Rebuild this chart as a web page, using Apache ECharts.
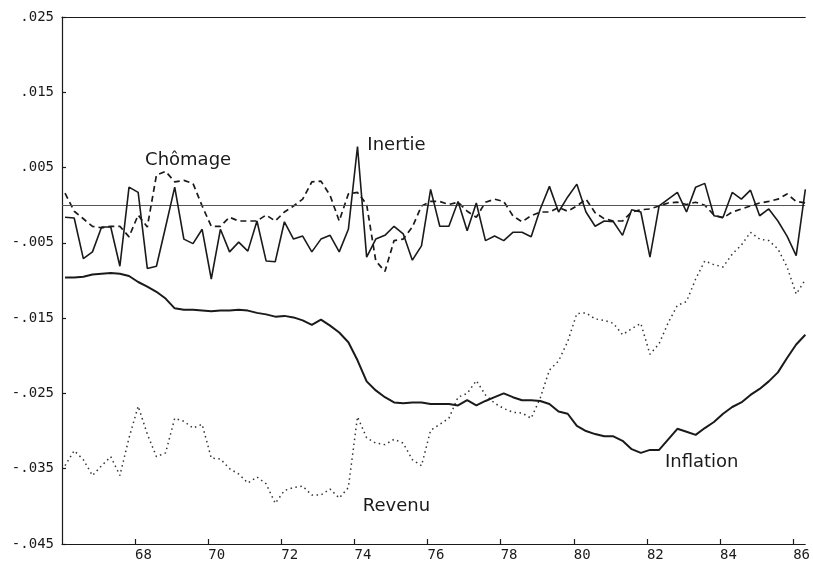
<!DOCTYPE html>
<html>
<head>
<meta charset="utf-8">
<script src="https://cdn.jsdelivr.net/npm/echarts@6/dist/echarts.min.js"></script>
<style>
html,body{margin:0;padding:0;background:#fff;overflow:hidden;}
#chart{width:813px;height:562px;}
</style>
</head>
<body>
<div id="chart"></div>
<script>
// Quarterly series, 1966Q1 .. 1986Q2
const startYear = 66;
const inertie = [-0.0016,-0.0017,-0.0071,-0.0062,-0.0029,-0.0029,-0.0081,0.0024,0.0017,-0.0084,-0.0081,-0.0029,0.0024,-0.0045,-0.0051,-0.0032,-0.0098,-0.0032,-0.0062,-0.0049,-0.0061,-0.0021,-0.0074,-0.0075,-0.0022,-0.0045,-0.0041,-0.0062,-0.0045,-0.0040,-0.0062,-0.0032,0.0078,-0.0069,-0.0045,-0.0040,-0.0028,-0.0038,-0.0073,-0.0054,0.0021,-0.0028,-0.0028,0.0005,-0.0034,0.0003,-0.0047,-0.0041,-0.0047,-0.0036,-0.0036,-0.0042,-0.0005,0.0025,-0.0009,0.0011,0.0028,-0.0009,-0.0028,-0.0021,-0.0022,-0.0040,-0.0006,-0.0009,-0.0069,-0.0001,0.0008,0.0017,-0.0009,0.0024,0.0029,-0.0014,-0.0016,0.0017,0.0008,0.0020,-0.0014,-0.0005,-0.0021,-0.0041,-0.0067,0.0021];
const chomage = [0.0016,-0.0008,-0.0018,-0.0028,-0.0030,-0.0028,-0.0028,-0.0042,-0.0013,-0.0029,0.0040,0.0045,0.0031,0.0033,0.0029,-0.0001,-0.0028,-0.0028,-0.0016,-0.0021,-0.0021,-0.0021,-0.0013,-0.0021,-0.0009,-0.0001,0.0008,0.0031,0.0032,0.0013,-0.0021,0.0015,0.0017,0.0001,-0.0074,-0.0088,-0.0047,-0.0045,-0.0029,-0.0001,0.0005,0.0005,0.0001,0.0004,-0.0008,-0.0016,0.0004,0.0008,0.0005,-0.0014,-0.0022,-0.0014,-0.0009,-0.0009,-0.0003,-0.0008,-0.0001,0.0008,-0.0010,-0.0018,-0.0021,-0.0021,-0.0009,-0.0006,-0.0005,-0.0001,0.0003,0.0004,0.0001,0.0004,0.0000,-0.0013,-0.0017,-0.0009,-0.0005,-0.0001,0.0003,0.0005,0.0008,0.0015,0.0005,0.0003];
const inflation = [-0.0096,-0.0096,-0.0095,-0.0092,-0.0091,-0.0090,-0.0091,-0.0094,-0.0102,-0.0108,-0.0115,-0.0124,-0.0137,-0.0139,-0.0139,-0.0140,-0.0141,-0.0140,-0.0140,-0.0139,-0.0140,-0.0143,-0.0145,-0.0148,-0.0147,-0.0149,-0.0153,-0.0159,-0.0152,-0.0160,-0.0169,-0.0182,-0.0206,-0.0234,-0.0246,-0.0255,-0.0262,-0.0263,-0.0262,-0.0262,-0.0264,-0.0264,-0.0264,-0.0266,-0.0259,-0.0266,-0.0260,-0.0255,-0.0250,-0.0255,-0.0259,-0.0259,-0.0260,-0.0264,-0.0274,-0.0277,-0.0293,-0.0300,-0.0304,-0.0307,-0.0307,-0.0313,-0.0324,-0.0329,-0.0325,-0.0325,-0.0311,-0.0297,-0.0301,-0.0305,-0.0296,-0.0288,-0.0277,-0.0268,-0.0262,-0.0252,-0.0244,-0.0234,-0.0222,-0.0203,-0.0185,-0.0172];
const revenu = [-0.0346,-0.0326,-0.0338,-0.0359,-0.0346,-0.0334,-0.0359,-0.0309,-0.0267,-0.0304,-0.0334,-0.0329,-0.0283,-0.0287,-0.0296,-0.0291,-0.0336,-0.0337,-0.0350,-0.0357,-0.0369,-0.0361,-0.0370,-0.0396,-0.0379,-0.0375,-0.0373,-0.0385,-0.0385,-0.0377,-0.0389,-0.0375,-0.0281,-0.0309,-0.0316,-0.0318,-0.0311,-0.0316,-0.0338,-0.0346,-0.0299,-0.0291,-0.0283,-0.0255,-0.0250,-0.0233,-0.0252,-0.0263,-0.0270,-0.0275,-0.0276,-0.0283,-0.0256,-0.0219,-0.0207,-0.0181,-0.0144,-0.0143,-0.0151,-0.0153,-0.0157,-0.0172,-0.0164,-0.0157,-0.0198,-0.0184,-0.0156,-0.0133,-0.0128,-0.0098,-0.0074,-0.0079,-0.0082,-0.0065,-0.0053,-0.0036,-0.0045,-0.0047,-0.0058,-0.0082,-0.0118,-0.0099];
const xTickLabels = ['68','70','72','74','76','78','80','82','84','86'];
// label anchor positions (year, value)
const labelPos = {
  'Inertie':[75.15,0.0079],
  'Chômage':[69.45,0.0060],
  'Inflation':[83.5,-0.0341],
  'Revenu':[75.15,-0.0400]
};

const periods = inertie.map((_, i) => startYear + Math.floor(i/4) + ((i%4)*3+1)/12);
const pair = arr => arr.map((v,i)=>[periods[i], v]);

function fmtY(v){
  const k = Math.round(v*1000);
  const s = String(Math.abs(k)).padStart(3,'0');
  return (k<0?'-':'') + '.' + s;
}
const ink = '#1a1a1a';
const monoFont = 'DejaVu Sans Mono';

function label(name){
  return {
    symbol:'circle', symbolSize:0, silent:true,
    data:[{coord:labelPos[name], value:name}],
    label:{show:true, position:'inside', formatter:name, color:ink,
      fontFamily:'DejaVu Sans', fontSize:18}
  };
}

const chart = echarts.init(document.getElementById('chart'), null, {renderer:'canvas', width:813, height:562});
chart.setOption({
  animation:false,
  backgroundColor:'#ffffff',
  grid:{left:62, right:0, top:17, bottom:16, containLabel:false},
  xAxis:[{
    type:'value', min:66, max:86.33, interval:2,
    axisLine:{show:true, onZero:false, lineStyle:{color:ink, width:1.2}},
    axisTick:{show:true, inside:true, length:5, lineStyle:{color:ink, width:1.2}},
    splitLine:{show:false},
    axisLabel:{show:true, showMinLabel:false, showMaxLabel:false, align:'left', margin:4,
      color:ink, fontFamily:monoFont, fontSize:14,
      formatter:v=>{const s=String(Math.round(v)); return xTickLabels.indexOf(s)>=0?s:'';}}
  },{
    type:'value', position:'top', min:66, max:86.33,
    axisLine:{show:true, onZero:false, lineStyle:{color:ink, width:1.2}},
    axisTick:{show:false}, axisLabel:{show:false}, splitLine:{show:false}
  }],
  yAxis:{
    type:'value', min:-0.045, max:0.025, interval:0.01,
    axisLine:{show:true, onZero:false, lineStyle:{color:ink, width:1.2}},
    axisTick:{show:true, inside:true, length:4, lineStyle:{color:ink, width:1.2}},
    splitLine:{show:false},
    axisLabel:{show:true, margin:8, color:ink, fontFamily:monoFont, fontSize:14, formatter:fmtY}
  },
  series:[
    {name:'Inertie', type:'line', data:pair(inertie), showSymbol:false, symbol:'none',
      lineStyle:{color:ink, width:1.6}, z:5,
      markLine:{silent:true, symbol:['none','none'], label:{show:false},
        lineStyle:{color:'#555', width:1, type:'solid'}, data:[{yAxis:0}]},
      markPoint:label('Inertie')},
    {name:'Chômage', type:'line', data:pair(chomage), showSymbol:false, symbol:'none',
      lineStyle:{color:ink, width:1.7, type:[6,4]}, z:4, markPoint:label('Chômage')},
    {name:'Inflation', type:'line', data:pair(inflation), showSymbol:false, symbol:'none',
      lineStyle:{color:ink, width:2}, z:4, markPoint:label('Inflation')},
    {name:'Revenu', type:'line', data:pair(revenu), showSymbol:false, symbol:'none',
      lineStyle:{color:'#333', width:1.5, type:[1.5,3.5]}, z:3, markPoint:label('Revenu')}
  ]
});
</script>
</body>
</html>
